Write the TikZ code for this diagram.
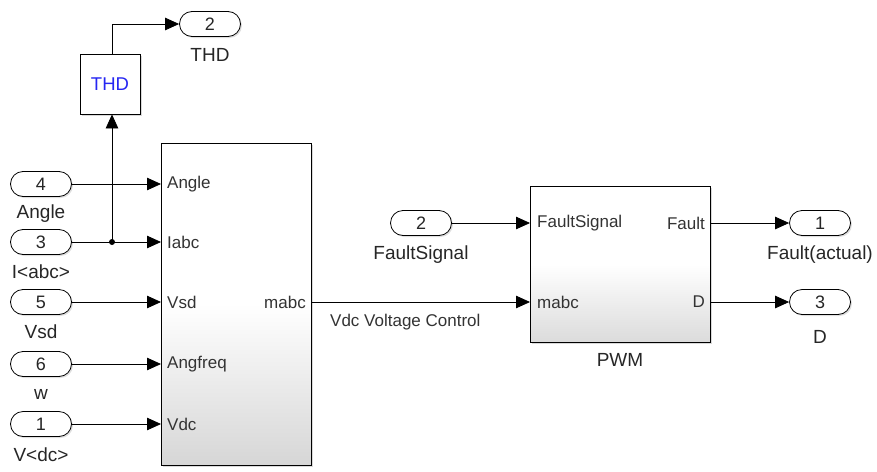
\documentclass[tikz,border=0pt]{standalone}
\usepackage{fontspec}
\setmainfont{Liberation Sans}
\usetikzlibrary{arrows.meta,shadows}
\begin{document}
\begin{tikzpicture}[x=1pt,y=-1pt,
  port/.style={draw,thick,rounded corners=12.5pt,minimum width=61pt,minimum height=25pt,inner sep=0pt,fill=white,
    drop shadow={opacity=0.25,shadow xshift=1.5pt,shadow yshift=-1.5pt},font=\fontsize{18}{20}\selectfont,text=black!85},
  plabel/.style={font=\fontsize{19}{21}\selectfont,text=black!85,inner sep=0pt},
  inlabel/.style={font=\fontsize{17}{19}\selectfont,text=black!80,inner sep=0pt},
  blk/.style={draw,thick,inner sep=0pt,drop shadow={opacity=0.3,shadow xshift=2pt,shadow yshift=-2pt}},
  wire/.style={thick,-{Triangle[length=14pt,width=12.5pt]}},
  line/.style={thick}]
\useasboundingbox (0,0) rectangle (877,471);

% THD outport and block
\node[port] (oTHD) at (210,24) {2};
\node[plabel] (lTHD) at (210,55) {THD};
\node[blk,fill=white,minimum width=60pt,minimum height=60pt] (thd) at (110,84)
  {\fontsize{18.5}{20}\selectfont\color[rgb]{0.15,0.15,0.95}THD};

% main block
\node[blk,top color=white,bottom color=black!16,middle color=white,minimum width=150pt,minimum height=322pt] (main) at (236,304) {};
\coordinate (pAngle) at (161,184);
\coordinate (pIabc) at (161,242);
\coordinate (pVsd) at (161,302);
\coordinate (pAngf) at (161,364);
\coordinate (pVdc) at (161,424);
\coordinate (pMabc) at (311,302);
\node[inlabel,anchor=west] (tAngle) at (167,184) {Angle};
\node[inlabel,anchor=west] (tIabc) at (167,242) {Iabc};
\node[inlabel,anchor=west] (tVsd) at (167,302) {Vsd};
\node[inlabel,anchor=west] (tAngf) at (167,364) {Angfreq};
\node[inlabel,anchor=west] (tVdc) at (167,424) {Vdc};
\node[inlabel,anchor=east] (tMabc) at (306,302) {mabc};

% inports
\node[port] (i4) at (41,184) {4};
\node[plabel] (l4) at (41,214) {Angle};
\node[port] (i3) at (41,242) {3};
\node[plabel] (l3) at (41,272) {I<abc>};
\node[port] (i5) at (41,302) {5};
\node[plabel] (l5) at (41,332) {Vsd};
\node[port] (i6) at (41,364) {6};
\node[plabel] (l6) at (41,394) {w};
\node[port] (i1) at (41,424) {1};
\node[plabel] (l1) at (41,455) {V<dc>};

% PWM block
\node[blk,top color=white,bottom color=black!14,middle color=white,minimum width=180pt,minimum height=156pt] (pwm) at (620,264) {};
\node[plabel] (lPWM) at (620,360) {PWM};
\coordinate (qFS) at (530,223);
\coordinate (qMabc) at (530,302);
\coordinate (qFault) at (710,223);
\coordinate (qD) at (710,302);
\node[inlabel,anchor=west] (tFS) at (537,223) {FaultSignal};
\node[inlabel,anchor=west] (tM2) at (537,302) {mabc};
\node[inlabel,anchor=east] (tFault) at (705,223) {Fault};
\node[inlabel,anchor=east] (tD) at (705,302) {D};

\node[port] (iFS) at (421,223) {2};
\node[plabel] (lFS) at (421,255) {FaultSignal};
\node[port] (oF) at (820,223) {1};
\node[plabel] (lF) at (820,255) {Fault(actual)};
\node[port] (oD) at (820,302) {3};
\node[plabel] (lD) at (820,337) {D};

% wires
\draw[wire] (i4.east) -- (pAngle);
\draw[wire] (i3.east) -- (pIabc);
\draw[wire] (i5.east) -- (pVsd);
\draw[wire] (i6.east) -- (pAngf);
\draw[wire] (i1.east) -- (pVdc);
\coordinate (junc) at (112,242);
\fill (junc) circle (3pt);
\draw[wire] (junc) -- (junc |- thd.south);
\draw[wire] (112,54) |- (oTHD.west);
\draw[wire] (pMabc) -- (qMabc);
\node[inlabel,anchor=west] (sig) at (330,322) {Vdc Voltage Control};
\draw[wire] (iFS.east) -- (qFS);
\draw[wire] (qFault) -- (oF.west);
\draw[wire] (qD) -- (oD.west);
\end{tikzpicture}
\end{document}
